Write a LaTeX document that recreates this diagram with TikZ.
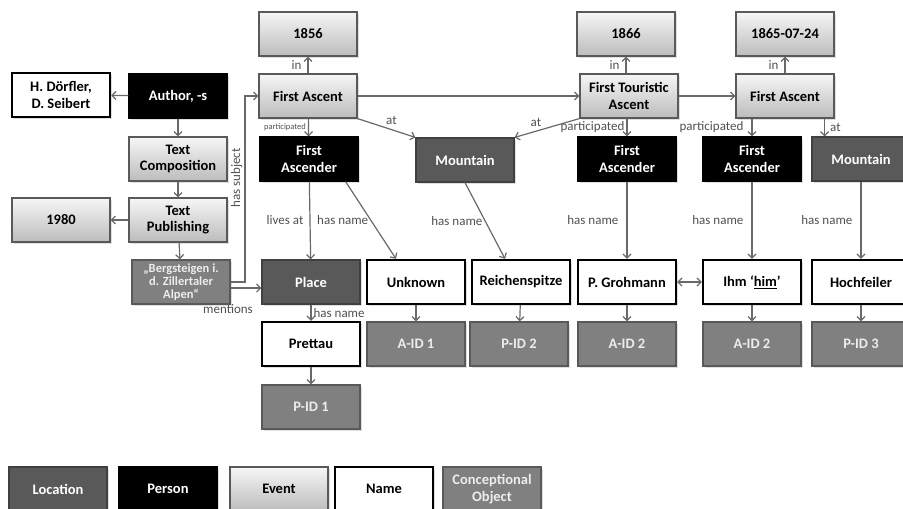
\documentclass[tikz,border=0pt]{standalone}
\usepackage{fontspec}
\setmainfont{Carlito}
\usetikzlibrary{arrows.meta, shadows}
\definecolor{evtop}{RGB}{246,246,246}
\definecolor{evbot}{RGB}{188,188,188}
\definecolor{locgray}{RGB}{89,89,89}
\definecolor{objgray}{RGB}{128,128,128}
\definecolor{linegray}{RGB}{105,105,105}
\definecolor{lblgray}{RGB}{80,80,80}

\begin{document}
\begin{tikzpicture}[x=1pt, y=-1pt, >={Straight Barb[length=4pt,width=8pt]}]
	\tikzstyle{box} = [rectangle, minimum width=98pt, minimum height=44pt, align=center, font=\fontsize{14.5}{16.5}\selectfont\bfseries, line width=1.2pt, drop shadow={opacity=0.25, shadow xshift=1.5pt, shadow yshift=-1.5pt}]
	\tikzstyle{eventbox} = [box, draw=black!65, top color=evtop, bottom color=evbot]
	\tikzstyle{locbox} = [box, draw=black!75, fill=locgray, text=white]
	\tikzstyle{personbox} = [box, draw=black, fill=black, text=white]
	\tikzstyle{namebox} = [box, draw=black, fill=white, line width=2.4pt]
	\tikzstyle{objbox} = [box, draw=black!65, fill=objgray, text=white!93!black]
	\tikzstyle{lbl} = [font=\fontsize{13}{15}\selectfont, text=lblgray, inner sep=2pt]
	\useasboundingbox (0,0) rectangle (903,509);

	% left part: the text and its authors
	\node[namebox] (authors) at (61,95) {H. Dörfler,\\D. Seibert};
	\node[personbox] (author) at (178,96) {Author, -s};
	\node[eventbox] (text_comp) at (178,159) {Text\\Composition};
	\node[eventbox] (text_pub) at (178,220) {Text\\Publishing};
	\node[eventbox] (y1980) at (61,220) {1980};
	\node[objbox, font=\fontsize{12.5}{13}\selectfont\bfseries, inner sep=1pt] (book) at (181,282) {„Bergsteigen i.\\d. Zillertaler\\Alpen“};

	% first ascent
	\node[eventbox] (y1856) at (308,34) {1856};
	\node[eventbox] (ascent1) at (308,96) {First Ascent};
	\node[personbox] (ascender1) at (309,159) {First\\Ascender};
	\node[locbox] (mountain1) at (465,160) {Mountain};
	\node[locbox] (place) at (311,282) {Place};
	\node[namebox] (unknown) at (416,282) {Unknown};
	\node[namebox] (prettau) at (311,344) {Prettau};
	\node[objbox] (aid1) at (416,344) {A-ID 1};
	\node[objbox] (pid1) at (311,407) {P-ID 1};
	\node[namebox] (reichen) at (521,282) {Reichenspitze};
	\node[objbox] (pid2) at (519,344) {P-ID 2};

	% first touristic ascent
	\node[eventbox] (y1866) at (626,34) {1866};
	\node[eventbox] (touristic) at (629,96) {First Touristic\\Ascent};
	\node[personbox] (ascender2) at (627,159) {First\\Ascender};
	\node[namebox] (grohmann) at (627,282) {P. Grohmann};
	\node[objbox] (aid2) at (627,344) {A-ID 2};

	% first ascent, 1865
	\node[eventbox] (y1865) at (785,34) {1865-07-24};
	\node[eventbox] (ascent2) at (785,96) {First Ascent};
	\node[personbox] (ascender3) at (752,159) {First\\Ascender};
	\node[namebox] (ihm) at (752,282) {Ihm ‘\underline{him}’};
	\node[objbox] (aid3) at (752,344) {A-ID 2};
	\node[locbox] (mountain2) at (861,159) {Mountain};
	\node[namebox] (hochfeiler) at (861,282) {Hochfeiler};
	\node[objbox] (pid3) at (861,344) {P-ID 3};

	% legend
	\node[locbox] (leg_loc) at (58,489) {Location};
	\node[personbox] (leg_person) at (168,489) {Person};
	\node[eventbox] (leg_event) at (279,489) {Event};
	\node[namebox] (leg_name) at (384,489) {Name};
	\node[objbox] (leg_obj) at (492,489) {Conceptional\\Object};

	\coordinate (subj) at (245,0);
	\draw[->, linegray, line width=1.2pt] (book.east) -| node[lbl, pos=0.78, sloped, above] {has subject} (ascent1.west -| subj) -- (ascent1.west);
	\draw[linegray, line width=1.2pt]
	(author) edge[->] (authors)
	(author) edge[->] (text_comp)
	(text_comp) edge[->] (text_pub)
	(text_pub) edge[->] (y1980)
	(text_pub) edge[->] (book)
	(book.-7) edge[->] node[lbl, below=14pt, xshift=-18pt] {mentions} (book.-7 -| place.west)
	(ascent1) edge[->] node[lbl, left=4pt] {in} (y1856)
	(touristic.north -| y1866) edge[->] node[lbl, left=4pt] {in} (y1866)
	(ascent2) edge[->] node[lbl, left=4pt] {in} (y1865)
	(ascent1) edge[->] (touristic)
	(touristic) edge[->] (ascent2)
	(ascent1) edge[->] node[lbl, left, font=\fontsize{8.5}{10}\selectfont] {participated} (ascender1)
	(touristic.south -| ascender2) edge[->] node[lbl, left] {participated} (ascender2)
	(ascent2.south -| ascender3) edge[->] node[lbl, left=6pt] {participated} (ascender3)
	(ascent1.south east) edge[->] node[lbl, above right, pos=0.45] {at} (mountain1.north west)
	(touristic.south west) edge[->] node[lbl, above left, pos=0.55] {at} (mountain1.north east)
	([xshift=-10pt]ascent2.south east) edge[->] node[lbl, right=3pt] {at} ([xshift=-10pt]ascent2.south east |- mountain2.north)
	(ascender1) edge[->] node[lbl, left=4pt] {lives at} (place)
	(ascender1.south east) ++(-13pt,0) edge[->] node[lbl, left] {has name} ([xshift=-20pt]unknown.north)
	(mountain1.south) edge[->] node[lbl, left] {has name} ([xshift=-16pt]reichen.north)
	(ascender2) edge[->] node[lbl, left=6pt] {has name} (grohmann)
	(ascender3) edge[->] node[lbl, left=6pt] {has name} (ihm)
	(mountain2) edge[->] node[lbl, left=6pt] {has name} (hochfeiler)
	(place) edge[->] node[lbl, right] {has name} (prettau)
	(grohmann) edge[<->] (ihm)
	(unknown) edge[->] (aid1)
	(prettau) edge[->] (pid1)
	(reichen) edge[->] (pid2)
	(grohmann) edge[->] (aid2)
	(ihm) edge[->] (aid3)
	(hochfeiler) edge[->] (pid3)
	;
\end{tikzpicture}
\end{document}
